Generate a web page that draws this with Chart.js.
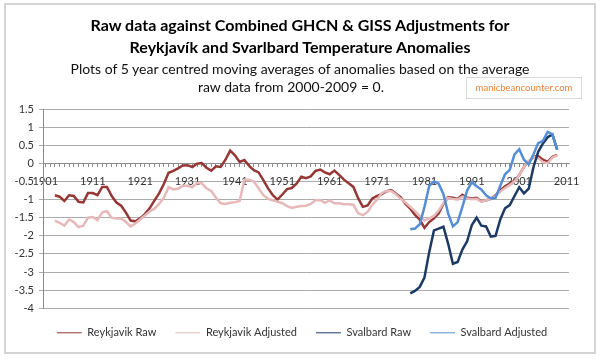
<!DOCTYPE html>
<html>
<head>
<meta charset="utf-8">
<script src="https://cdn.jsdelivr.net/npm/chart.js@4/dist/chart.umd.min.js"></script>
<style>
html, body { margin: 0; padding: 0; background: #fff; }
#wrap { position: relative; width: 600px; height: 359px; overflow: hidden; font-family: Lato, "Open Sans", sans-serif; }
#frame { position: absolute; left: 4px; top: 3px; width: 592px; height: 351px; border: 2px solid #d4d4d4; box-sizing: border-box; }
#c { position: absolute; left: 0; top: 0; }
.t { position: absolute; left: 0; width: 600px; text-align: center; color: #000; white-space: nowrap; }
.tb { font-weight: 700; font-size: 16px; line-height: 20px; }
.ts { font-size: 14px; line-height: 18px; color: #111; }
#wm { position: absolute; left: 466px; top: 77px; width: 116px; height: 22px; border: 1px solid #d9d9d9; box-sizing: border-box; background: #fff; color: #e8813a; font-size: 9.5px; line-height: 20px; text-align: center; }
</style>
</head>
<body>
<div id="wrap">
  <div id="frame"></div>
  <canvas id="c" width="600" height="359"></canvas>
  <div class="t tb" style="top:15px">Raw data against Combined GHCN &amp; GISS Adjustments for</div>
  <div class="t tb" style="top:37px">Reykjavík and Svarlbard Temperature Anomalies</div>
  <div class="t ts" style="top:60px">Plots of 5 year centred moving averages of anomalies based on the average</div>
  <div class="t ts" style="top:78px; width:582px">raw data from 2000-2009 = 0.</div>
  <div id="wm">manicbeancounter.com</div>
</div>
<script>
// ---- data (5-year centred moving averages) ----
const seriesNames = ["Reykjavik Raw", "Reykjavik Adjusted", "Svalbard Raw", "Svalbard Adjusted"];

const reykStartYear = 1903;
const reykRaw = [
  -0.88, -0.92, -1.04, -0.88, -0.90, -1.06, -1.08, -0.82, -0.82, -0.88,
  -0.65, -0.65, -0.90, -1.08, -1.17, -1.36, -1.58, -1.60, -1.52, -1.40,
  -1.24, -1.03, -0.83, -0.57, -0.26, -0.21, -0.14, -0.06, -0.05, -0.10,
  -0.01, 0.01, -0.12, -0.20, -0.08, -0.10, 0.10, 0.35, 0.22, 0.04,
  0.09, -0.07, -0.19, -0.25, -0.46, -0.69, -0.88, -1.00, -0.86, -0.71,
  -0.68, -0.56, -0.37, -0.41, -0.36, -0.21, -0.17, -0.25, -0.30, -0.20,
  -0.32, -0.45, -0.55, -0.65, -0.96, -1.20, -1.16, -0.97, -0.90, -0.85,
  -0.77, -0.74, -0.84, -0.94, -1.12, -1.25, -1.42, -1.55, -1.78, -1.62,
  -1.52, -1.38, -1.12, -0.94, -0.95, -0.98, -0.87, -0.95, -0.97, -0.95,
  -1.05, -1.02, -0.98, -0.88, -0.74, -0.63, -0.56, -0.48, -0.32, -0.10,
  0.05, 0.18, 0.20, 0.10, 0.04, 0.18, 0.23
];
const reykAdj = [
  -1.58, -1.64, -1.72, -1.55, -1.62, -1.76, -1.72, -1.50, -1.48, -1.57,
  -1.35, -1.32, -1.50, -1.52, -1.52, -1.62, -1.74, -1.66, -1.55, -1.44,
  -1.33, -1.25, -1.12, -0.95, -0.66, -0.72, -0.70, -0.62, -0.62, -0.66,
  -0.54, -0.55, -0.69, -0.76, -0.95, -1.10, -1.12, -1.09, -1.07, -1.04,
  -0.45, -0.45, -0.50, -0.69, -0.88, -0.98, -1.02, -1.06, -1.10, -1.18,
  -1.23, -1.20, -1.18, -1.17, -1.12, -1.02, -1.01, -1.09, -1.02, -1.10,
  -1.10, -1.13, -1.13, -1.14, -1.38, -1.43, -1.34, -1.14, -1.00, -0.82,
  -0.76, -0.76, -0.86, -0.98, -1.08, -1.20, -1.32, -1.45, -1.58, -1.52,
  -1.45, -1.30, -1.10, -0.96, -0.98, -1.00, -0.92, -0.97, -0.99, -0.98,
  -1.06, -1.02, -0.98, -0.90, -0.78, -0.68, -0.60, -0.50, -0.32, -0.10,
  0.07, 0.18, 0.14, 0.04, 0.00, 0.16, 0.22
];

const svalStartYear = 1978;
const svalRaw = [
  -3.59, -3.52, -3.41, -3.15, -2.45, -1.85, -1.80, -1.75, -2.22, -2.77,
  -2.72, -2.38, -2.15, -1.70, -1.50, -1.72, -1.74, -2.02, -2.00, -1.55,
  -1.24, -1.15, -0.90, -0.66, -0.83, -0.70, -0.10, 0.32, 0.55, 0.72,
  0.80, 0.38
];
const svalAdj = [
  -1.82, -1.80, -1.68, -1.20, -0.62, -0.50, -0.56, -0.85, -1.38, -1.74,
  -1.62, -1.20, -0.75, -0.52, -0.63, -0.72, -0.88, -0.97, -0.95, -0.62,
  -0.30, -0.18, 0.25, 0.39, 0.10, -0.03, 0.25, 0.56, 0.62, 0.87,
  0.80, 0.38
];

// axis categories / tick labels
const firstYear = 1901;
const lastYear = 2011;
const xLabelYears = [1901, 1911, 1921, 1931, 1941, 1951, 1961, 1971, 1981, 1991, 2001, 2011];
const yTickValues = [1.5, 1, 0.5, 0, -0.5, -1, -1.5, -2, -2.5, -3, -3.5, -4];

// ---- build chart ----
function toPoints(start, arr) { return arr.map((v, i) => ({ x: start + i, y: v })); }
const allYears = [];
for (let y = firstYear; y <= lastYear; y++) allYears.push(y);

Chart.defaults.font.family = "Lato, 'Open Sans', sans-serif";
Chart.defaults.color = '#333';

const GRID = '#ababab';
const AXIS = '#8c8c8c';

// centre the legend row under the plot like the original
const legendShift = {
  id: 'legendShift',
  afterLayout(chart) {
    const lg = chart.legend;
    if (!lg) return;
    const target = 302;
    const dx = target - (lg.left + lg.right) / 2;
    lg.left += dx; lg.right += dx;
  }
};

new Chart(document.getElementById('c'), {
  type: 'line',
  data: {
    datasets: [
      { label: seriesNames[0], data: toPoints(reykStartYear, reykRaw), borderColor: '#953735', backgroundColor: '#953735', order: 4 },
      { label: seriesNames[1], data: toPoints(reykStartYear, reykAdj), borderColor: '#e6b9b8', backgroundColor: '#e6b9b8', order: 3 },
      { label: seriesNames[2], data: toPoints(svalStartYear, svalRaw), borderColor: '#1c3a64', backgroundColor: '#1c3a64', order: 2 },
      { label: seriesNames[3], data: toPoints(svalStartYear, svalAdj), borderColor: '#558ed5', backgroundColor: '#558ed5', order: 1 }
    ]
  },
  plugins: [legendShift],
  options: {
    responsive: false,
    animation: false,
    devicePixelRatio: 1,
    layout: { padding: { top: 109, left: 0, right: 31, bottom: 10.7 } },
    elements: {
      line: { tension: 0, borderWidth: 2.5 },
      point: { radius: 0, hoverRadius: 0 }
    },
    scales: {
      x: {
        type: 'linear',
        position: { y: 0 },
        min: firstYear - 0.5,
        max: lastYear + 0.5,
        afterBuildTicks: (scale) => { scale.ticks = allYears.map(v => ({ value: v })); },
        ticks: {
          autoSkip: false,
          maxRotation: 0,
          minRotation: 0,
          padding: 8,
          font: { size: 11 },
          color: '#333',
          callback: (v) => xLabelYears.includes(v) ? String(v) : ''
        },
        grid: { drawOnChartArea: false, drawTicks: true, tickLength: 3, color: AXIS, lineWidth: 1 },
        border: { display: true, color: AXIS, width: 1 }
      },
      y: {
        min: -4,
        max: 1.5,
        afterFit: (scale) => { scale.width = 43; },
        afterBuildTicks: (scale) => { scale.ticks = yTickValues.slice().reverse().map(v => ({ value: v })); },
        ticks: {
          autoSkip: false,
          padding: 5,
          font: { size: 11 },
          color: '#333',
          callback: (v) => String(Math.round(v * 10) / 10)
        },
        grid: { color: GRID, lineWidth: 1, tickLength: 4, drawTicks: true },
        border: { display: true, color: AXIS, width: 1 }
      }
    },
    plugins: {
      tooltip: { enabled: false },
      title: { display: false },
      legend: {
        position: 'bottom',
        fullSize: true,
        labels: {
          usePointStyle: true,
          pointStyle: 'line',
          pointStyleWidth: 25,
          padding: 19,
          font: { size: 11 },
          color: '#333',
          sort: (a, b) => a.datasetIndex - b.datasetIndex
        }
      }
    }
  }
});
</script>
</body>
</html>
